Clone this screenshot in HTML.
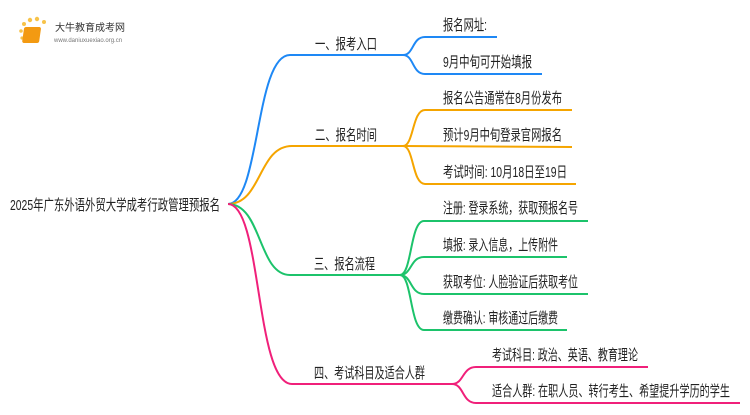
<!DOCTYPE html>
<html><head><meta charset="utf-8"><style>
body{margin:0;background:#fff;width:750px;height:410px;overflow:hidden}
text{font-family:"Liberation Sans","Noto Sans CJK SC",sans-serif;fill:#222;font-size:15px}
</style></head><body>
<svg width="750" height="410" viewBox="0 0 750 410" xmlns="http://www.w3.org/2000/svg">
<g fill="none" stroke-width="2">
<g stroke="#1e88f5">
<path d="M228 204 C260 204 255 55 290 55 L403 55"/>
<path d="M403 55 C414 55 412 37 425 37 L497 37"/>
<path d="M403 55 C414 55 412 74 425 74 L542 74"/>
</g>
<g stroke="#f5a500">
<path d="M228 204 C262 204 258 146 292 146 L403 146"/>
<path d="M403 146 C414 146 412 110 425 110 L572 110"/>
<path d="M403 146 L572 147"/>
<path d="M403 146 C414 146 412 184 425 184 L576 184"/>
</g>
<g stroke="#1cc36b">
<path d="M228 204 C262 204 258 275 290 275 L400 275"/>
<path d="M400 275 C412 275 410 221 424 221 L588 221"/>
<path d="M400 275 C412 275 410 257 424 257 L567 257"/>
<path d="M400 275 C412 275 410 294 424 294 L588 294"/>
<path d="M400 275 C412 275 410 330 424 330 L567 330"/>
</g>
<g stroke="#f0207a">
<path d="M228 204 C262 204 255 384 292 384 L452 384"/>
<path d="M452 384 C464 384 462 367 476 367 L648 367"/>
<path d="M452 384 C464 384 462 403 476 403 L740 403"/>
</g>
</g>
<g>
<circle cx="24" cy="24" r="2" fill="#f7c34a"/><circle cx="30" cy="20" r="2.2" fill="#f7c34a"/><circle cx="37" cy="19" r="2.2" fill="#f7c34a"/><circle cx="44" cy="22" r="2" fill="#f7c34a"/><circle cx="21" cy="31" r="1.8" fill="#f7c34a"/><circle cx="22" cy="38" r="1.6" fill="#f7c34a"/>
<rect x="28" y="27" width="17" height="16" rx="2" fill="#f39a12" transform="skewX(-8)"/>
<text x="55" y="31" style="font-size:10px;fill:#333">大牛教育成考网</text>
<text x="54" y="42" style="font-size:6px;fill:#777">www.daniuxuexiao.org.cn</text>
</g>
<g lengthAdjust="spacingAndGlyphs">
<text x="10" y="210" textLength="210" lengthAdjust="spacingAndGlyphs">2025年广东外语外贸大学成考行政管理预报名</text>
<text x="315" y="49" textLength="62" lengthAdjust="spacingAndGlyphs">一、报考入口</text>
<text x="315" y="140" textLength="62" lengthAdjust="spacingAndGlyphs">二、报名时间</text>
<text x="314" y="269" textLength="61" lengthAdjust="spacingAndGlyphs">三、报名流程</text>
<text x="314" y="378" textLength="111" lengthAdjust="spacingAndGlyphs">四、考试科目及适合人群</text>
<text x="443" y="30" textLength="44" lengthAdjust="spacingAndGlyphs">报名网址:</text>
<text x="443" y="67" textLength="89" lengthAdjust="spacingAndGlyphs">9月中旬可开始填报</text>
<text x="443" y="103" textLength="119" lengthAdjust="spacingAndGlyphs">报名公告通常在8月份发布</text>
<text x="443" y="140" textLength="119" lengthAdjust="spacingAndGlyphs">预计9月中旬登录官网报名</text>
<text x="443" y="177" textLength="124" lengthAdjust="spacingAndGlyphs">考试时间: 10月18日至19日</text>
<text x="443" y="213" textLength="135" lengthAdjust="spacingAndGlyphs">注册: 登录系统，获取预报名号</text>
<text x="443" y="250" textLength="115" lengthAdjust="spacingAndGlyphs">填报: 录入信息，上传附件</text>
<text x="443" y="287" textLength="135" lengthAdjust="spacingAndGlyphs">获取考位: 人脸验证后获取考位</text>
<text x="443" y="323" textLength="115" lengthAdjust="spacingAndGlyphs">缴费确认: 审核通过后缴费</text>
<text x="492" y="360" textLength="146" lengthAdjust="spacingAndGlyphs">考试科目: 政治、英语、教育理论</text>
<text x="492" y="396" textLength="238" lengthAdjust="spacingAndGlyphs">适合人群: 在职人员、转行考生、希望提升学历的学生</text>
</g>
</svg>
</body></html>
